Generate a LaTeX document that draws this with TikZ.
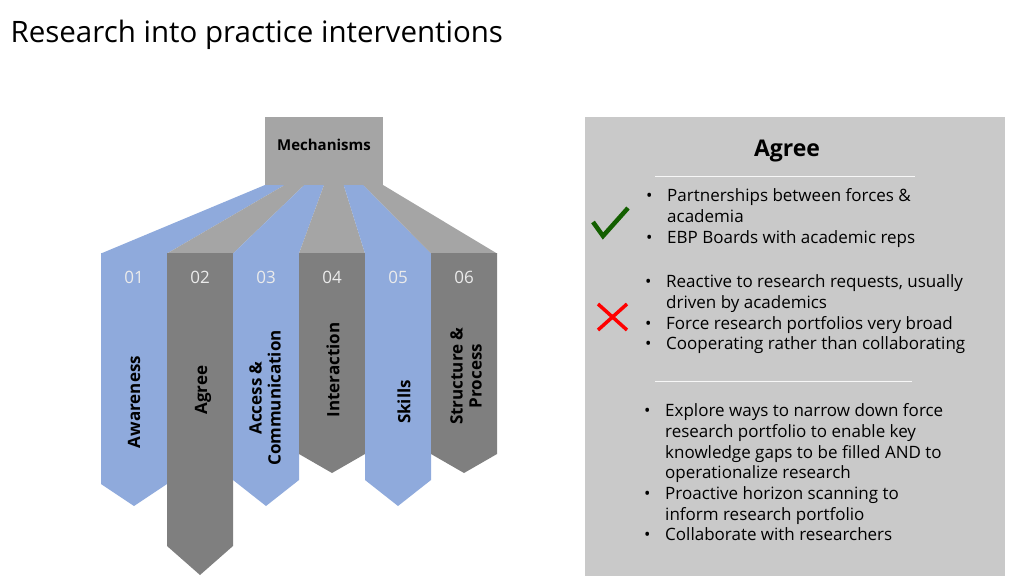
\documentclass[tikz,border=0pt]{standalone}
\usepackage{fontspec}
\usepackage{array}
\setmainfont{Open Sans}
\usetikzlibrary{positioning}
\definecolor{mblue}{HTML}{8FAADC}
\definecolor{mgrey}{HTML}{7F7F7F}
\definecolor{lgrey}{HTML}{A5A5A5}
\definecolor{panel}{HTML}{C9C9C9}
\tikzset{
  colnum/.style={text=white!92!black, font=\fontsize{17}{20}\selectfont},
  collabel/.style={rotate=90, font=\bfseries\fontsize{17}{19}\selectfont, align=center},
  bullets/.style={anchor=north west, inner sep=0pt, font=\fontsize{17}{20.7}\selectfont}
}
\newcommand{\arrowcol}[5]{% x, colour, side end, tip, name
  \fill[#2] (#1,253) -- (#1+66,253) -- (#1+66,#3) -- (#1+33,#4) -- (#1,#3) -- cycle;
  \coordinate (#5) at (#1+33,253);
}
\newenvironment{blist}{\renewcommand\arraystretch{1}\setlength\tabcolsep{0pt}%
  \begin{tabular}{@{}p{21pt}@{}>{\raggedright\arraybackslash}p{330pt}@{}}}{\end{tabular}}
\begin{document}
\begin{tikzpicture}[x=1pt,y=-1pt]
\useasboundingbox (0,0) rectangle (1024,576);
\node[anchor=west, font=\fontsize{29.5}{33}\selectfont] (title) at (7,35) {Research into practice interventions};
% funnel
\fill[lgrey] (265,117) rectangle (383,186);
\node[font=\bfseries\fontsize{15}{18}\selectfont] (mech) at (324,145) {Mechanisms};
\foreach \i/\c in {0/mblue,1/lgrey,2/mblue,3/lgrey,4/mblue,5/lgrey}{
  \fill[\c] (265+19.67*\i,185) -- (265+19.67*\i+19.67,185) -- (167+66*\i,253.5) -- (101+66*\i,253.5) -- cycle;
}
% columns
\arrowcol{101}{mblue}{484}{506}{c1}
\arrowcol{167}{mgrey}{546}{575}{c2}
\arrowcol{233}{mblue}{480}{506}{c3}
\arrowcol{299}{mgrey}{454}{473}{c4}
\arrowcol{365}{mblue}{480}{506}{c5}
\arrowcol{431}{mgrey}{454}{473}{c6}
\foreach \n/\t [count=\k] in {c1/01,c2/02,c3/03,c4/04,c5/05,c6/06}
  \node[colnum] (num\k) at ([yshift=-24]\n) {\t};
\node[collabel] (l1) at (134,402) {Awareness};
\node[collabel] (l2) at (203,390) {Agree};
\node[collabel] (l3) at (265,398) {Access \&\\Communication};
\node[collabel] (l4) at (333,370) {Interaction};
\node[collabel] (l5) at (404,402) {Skills};
\node[collabel] (l6) at (466,376) {Structure \&\\Process};
% panel
\fill[panel] (585,117) rectangle (1005,576);
\node[font=\bfseries\fontsize{23}{26}\selectfont] (agree) at (787,151) {Agree};
\draw[white!85!panel, line width=0.8pt] (655,176) -- (915,176);
\draw[white!85!panel, line width=0.8pt] (655,381) -- (912,381);
\draw[green!35!black!85!olive, line width=4.5pt] (593,222) -- (603,236) -- (628,208);
\draw[red, line width=3.5pt] (598,304) -- (627,330) (627,304) -- (598,330);
\node[bullets] (b1) at (646,187) {\begin{blist}
  • & Partnerships between forces \&\newline academia\\
  • & EBP Boards with academic reps
\end{blist}};
\node[bullets] (b2) at (645,273) {\begin{blist}
  • & Reactive to research requests, usually\newline driven by academics\\
  • & Force research portfolios very broad\\
  • & Cooperating rather than collaborating
\end{blist}};
\node[bullets] (b3) at (644,402) {\begin{blist}
  • & Explore ways to narrow down force\newline research portfolio to enable key\newline knowledge gaps to be filled AND to\newline operationalize research\\
  • & Proactive horizon scanning to\newline inform research portfolio\\
  • & Collaborate with researchers
\end{blist}};
\end{tikzpicture}
\end{document}
